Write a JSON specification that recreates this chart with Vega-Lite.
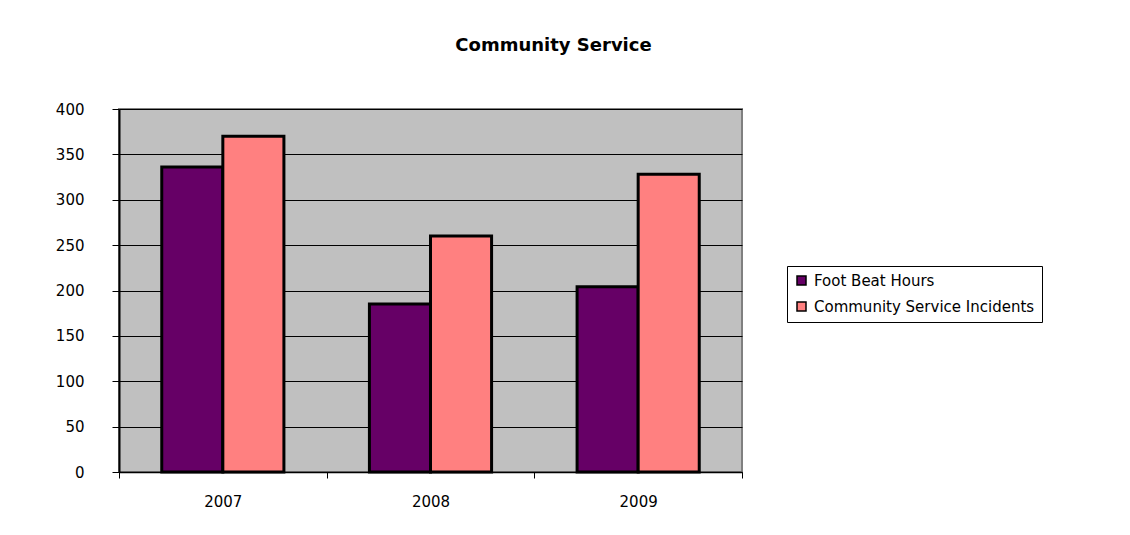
{
  "$schema": "https://vega.github.io/schema/vega-lite/v6.json",
  "width": 623,
  "height": 363,
  "autosize": {"type": "none"},
  "padding": {"left": 119, "top": 109, "right": 388, "bottom": 63},
  "background": "white",
  "title": {
    "text": "Community Service",
    "font": "DejaVu Sans",
    "fontSize": 18,
    "fontWeight": "bold",
    "color": "black",
    "anchor": "middle",
    "dx": 123,
    "offset": 47
  },
  "data": {
    "values": [
      {"year": "2007", "series": "Foot Beat Hours", "value": 336},
      {"year": "2007", "series": "Community Service Incidents", "value": 370},
      {"year": "2008", "series": "Foot Beat Hours", "value": 185},
      {"year": "2008", "series": "Community Service Incidents", "value": 260},
      {"year": "2009", "series": "Foot Beat Hours", "value": 204},
      {"year": "2009", "series": "Community Service Incidents", "value": 328}
    ]
  },
  "mark": {"type": "bar", "stroke": "black", "strokeWidth": 3},
  "encoding": {
    "x": {
      "field": "year",
      "type": "nominal",
      "scale": {"paddingInner": 0, "paddingOuter": 0},
      "axis": {
        "title": null,
        "labelAngle": 0,
        "labelFont": "DejaVu Sans",
        "labelFontSize": 15,
        "labelColor": "black",
        "labelPadding": 16,
        "tickBand": "extent",
        "tickColor": "black",
        "tickSize": 6,
        "domainColor": "black",
        "domainWidth": 1.5
      }
    },
    "xOffset": {
      "field": "series",
      "type": "nominal",
      "sort": ["Foot Beat Hours", "Community Service Incidents"],
      "scale": {"paddingInner": 0, "paddingOuter": 0.7}
    },
    "y": {
      "field": "value",
      "type": "quantitative",
      "scale": {"domain": [0, 400]},
      "axis": {
        "title": null,
        "values": [0, 50, 100, 150, 200, 250, 300, 350, 400],
        "labelFont": "DejaVu Sans",
        "labelFontSize": 15,
        "labelColor": "black",
        "labelPadding": 28,
        "tickColor": "black",
        "tickSize": 7,
        "domainColor": "black",
        "domainWidth": 2,
        "grid": true,
        "gridColor": "black",
        "gridWidth": 1,
        "gridOpacity": 1
      }
    },
    "color": {
      "field": "series",
      "type": "nominal",
      "scale": {
        "domain": ["Foot Beat Hours", "Community Service Incidents"],
        "range": ["#660066", "#FF8080"]
      },
      "legend": {
        "title": null,
        "orient": "none",
        "legendX": 668,
        "legendY": 157,
        "direction": "vertical",
        "strokeColor": "black",
        "fillColor": "white",
        "padding": 7,
        "symbolType": "square",
        "symbolSize": 81,
        "symbolStrokeColor": "black",
        "symbolStrokeWidth": 1.5,
        "symbolOpacity": 1,
        "labelFont": "DejaVu Sans",
        "labelFontSize": 15,
        "labelColor": "black",
        "labelLimit": 400,
        "labelOffset": 5,
        "rowPadding": 10
      }
    }
  },
  "config": {
    "view": {"fill": "#C0C0C0", "stroke": "#808080", "strokeWidth": 2}
  }
}
